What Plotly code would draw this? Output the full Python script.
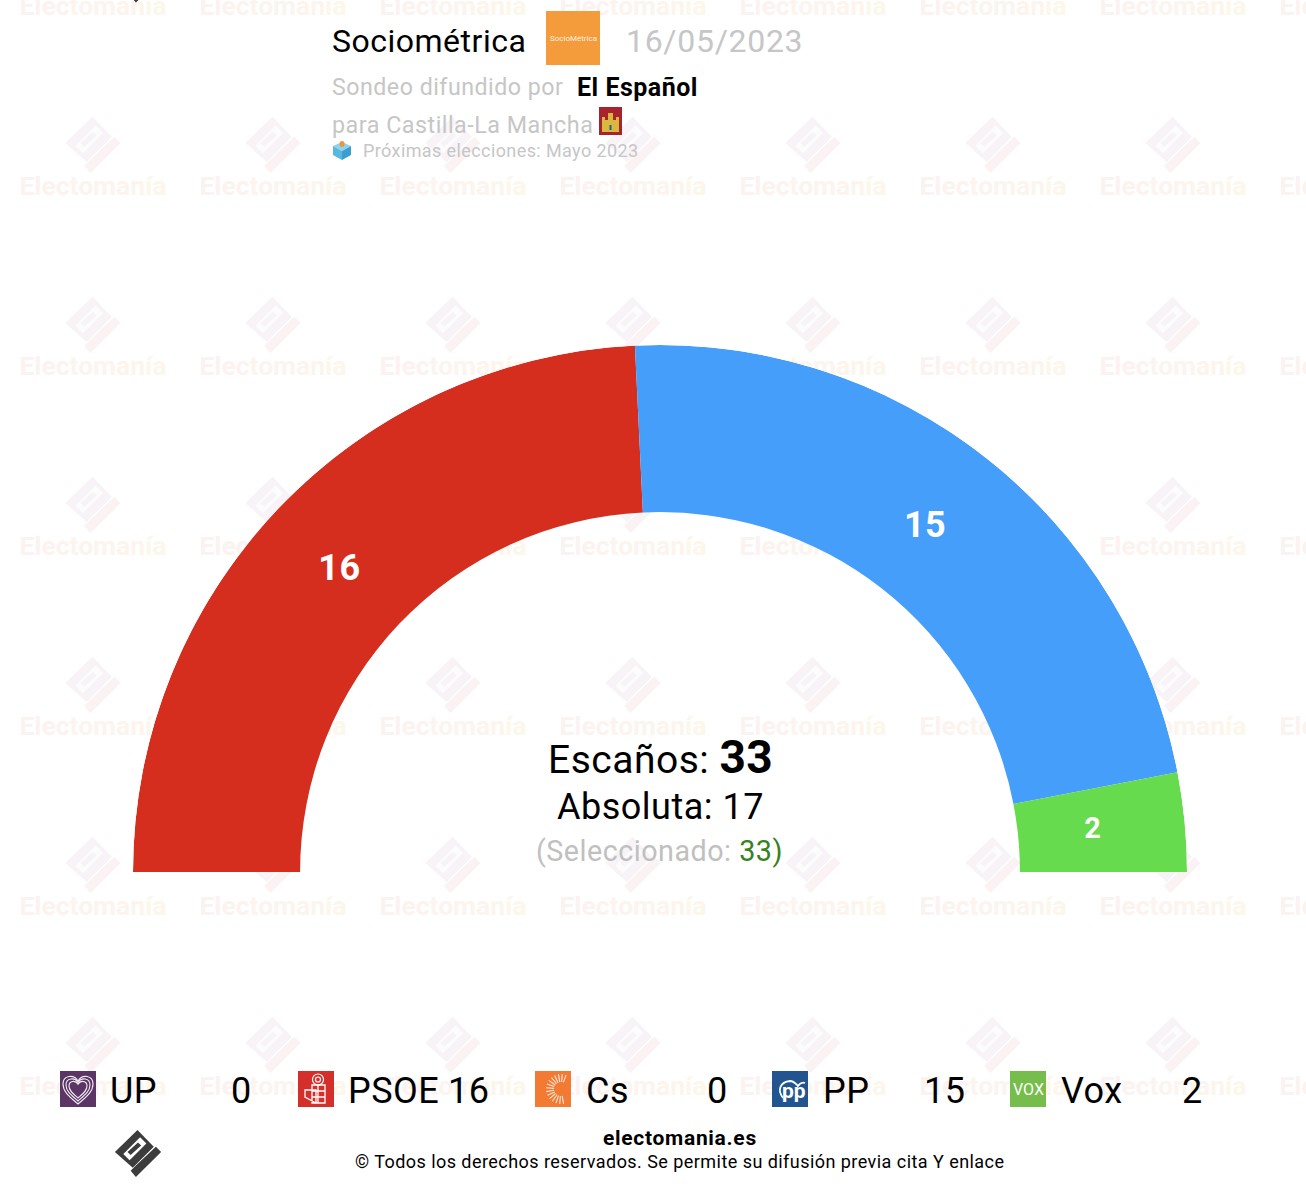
import math
import plotly.graph_objects as go

W, H = 1306, 1188
parties = ["UP", "PSOE", "Cs", "PP", "Vox"]
seats = [0, 16, 0, 15, 2]
colors = ["#5b3564", "#d52e1f", "#f07830", "#459ef9", "#66db4d"]
legend_box_colors = ["#5b3564", "#d42f2a", "#f27a32", "#22558f", "#76bd4c"]
label_r = {"PSOE": 0.835, "PP": 0.824, "Vox": 0.825}
label_dtheta = {"PSOE": 0.4, "PP": 0.56, "Vox": -0.05}
total_seats = 33
majority = 17
selected = 33
pollster = "Sociométrica"
poll_date = "16/05/2023"
media = "El Español"
region_text = "para Castilla-La Mancha"
next_election = "Próximas elecciones: Mayo 2023"
FONT = "Roboto"

# ---------- helpers for decoration
def poly(pts, cx=0, cy=0, s=1):
    return "M" + "L".join(f"{cx+x*s:.2f},{cy+y*s:.2f}" for x, y in pts) + "Z"

def px_shape(path, fill="rgba(0,0,0,0)", line=None, lw=0, layer="above"):
    return dict(type="path", path=path, xref="x", yref="y", fillcolor=fill, layer=layer,
                line=dict(color=line or "rgba(0,0,0,0)", width=lw))

LOGO_BODY = [(-0.5, -22.5), (15, -6.5), (-5, 13.5), (-22, -1.5)]
LOGO_HOLE = [(2, -15.5), (8, -9.5), (-8, 6.5), (-14, 0.5)]
LOGO_BAR = [(0, -10.5), (3, -7.5), (-7, 1.5), (-10, -1.5)]
LOGO_CHECK = [(-7, 16.5), (-2, 22.5), (22, -1.5), (17, -6.5), (-2, 11.5)]

shapes = []
wm_cols = [93 + 180 * i for i in range(0, 8)]
wm_rows = [8 + 180 * i for i in range(0, 7)]
wm_logo_rows = [145 + 180 * i for i in range(0, 6)]
s = 1.26
for pts, fill in [(LOGO_BODY, "#f7f3f7"), (LOGO_HOLE, "#fdfcfd"), (LOGO_BAR, "#f7f3f7"), (LOGO_CHECK, "#faf2f3")]:
    path = "".join(poly(pts, cx, cy, s) for cx in wm_cols for cy in wm_logo_rows)
    shapes.append(px_shape(path, fill, layer="below"))

# Bottom-left dark logo, plus the fragment cut off by the top edge
for cy in (1153.5, -21):
    cx = 138
    shapes.append(px_shape(poly(LOGO_BODY, cx, cy, 1.05) + poly(LOGO_CHECK, cx, cy, 1.05), "#3c3c3c"))
    shapes.append(px_shape(poly(LOGO_HOLE, cx, cy, 1.05), "#ffffff"))
    shapes.append(px_shape(poly(LOGO_BAR, cx, cy, 1.05), "#3c3c3c"))

# Legend icon boxes
box_x = [60, 298, 535, 772, 1010]
text_x = [110, 348, 586, 823, 1061]
val_x = [252, 489, 728, 965, 1203]
LEG_Y = 1091
for bx, c in zip(box_x, legend_box_colors):
    shapes.append(dict(type="rect", xref="x", yref="y", x0=bx, x1=bx + 36, y0=1071, y1=1107,
                       fillcolor=c, line=dict(width=0), layer="above"))

# UP heart
def heart(cx, cy, k):
    return (f"M{cx},{cy+15*k} C{cx-8*k},{cy+8*k} {cx-15*k},{cy+3*k} {cx-15*k},{cy-5*k} "
            f"C{cx-15*k},{cy-14*k} {cx-4*k},{cy-15*k} {cx},{cy-8*k} "
            f"C{cx+4*k},{cy-15*k} {cx+15*k},{cy-14*k} {cx+15*k},{cy-5*k} "
            f"C{cx+15*k},{cy+3*k} {cx+8*k},{cy+8*k} {cx},{cy+15*k}Z")
for k in (1.0, 0.8, 0.6):
    shapes.append(px_shape(heart(78, 1089, k), line="#f3eef4", lw=1.1))

# PSOE fist and rose
for r in (5.5, 2.5):
    shapes.append(dict(type="circle", xref="x", yref="y", x0=318 - r, x1=318 + r, y0=1079.5 - r, y1=1079.5 + r,
                       line=dict(color="#ffffff", width=1.2), fillcolor="rgba(0,0,0,0)", layer="above"))
shapes.append(px_shape("M312,1085 L325,1085 L325,1103 L312,1103 Z M312,1091 L325,1091 M312,1097 L325,1097 M318,1085 L318,1103 "
                       "M305,1090 L316,1090 L316,1103 L305,1097 Z", line="#ffffff", lw=1.3))

# Cs rays
for ang in range(70, 295, 15):
    a = math.radians(ang)
    cxx, cyy = 561, 1089
    shapes.append(px_shape(f"M{cxx+7*math.cos(a):.1f},{cyy-7*math.sin(a):.1f} L{cxx+15*math.cos(a):.1f},{cyy-15*math.sin(a):.1f}",
                           line="#fbe7d8", lw=1.1))

# PP swoop
shapes.append(px_shape("M783,1098 C777,1090 780,1082 790,1081 C794,1081 796,1084 798,1086 C800,1083 803,1082 805,1083",
                       line="#ffffff", lw=1.8))

# Pollster logo, flag, ballot box
shapes.append(dict(type="rect", xref="x", yref="y", x0=546, x1=600, y0=11, y1=65, fillcolor="#f49c3b",
                   line=dict(width=0), layer="above"))
shapes.append(dict(type="rect", xref="x", yref="y", x0=599, x1=622, y0=107, y1=135, fillcolor="#a8232e",
                   line=dict(width=0), layer="above"))
shapes.append(px_shape("M602,132 L602,117 L605,117 L605,120 L608,120 L608,113 L613,113 L613,120 L616,120 L616,117 L619,117 L619,132 Z",
                       "#d9b83e"))
shapes.append(px_shape("M609.5,125 L611.5,125 L611.5,130 L609.5,130 Z", "#2a5a9c"))
shapes.append(px_shape("M333,146 L342,142 L351,146 L342,151 Z", "#8ed4ee"))
shapes.append(px_shape("M333,146 L342,151 L342,160 L333,155 Z", "#58b8e2"))
shapes.append(px_shape("M351,146 L342,151 L342,160 L351,155 Z", "#3a9fd0"))
shapes.append(dict(type="circle", xref="x", yref="y", x0=339.5, x1=344.5, y0=141, y1=147, fillcolor="#f0953a",
                   line=dict(width=0), layer="above"))

# ---------- figure
fig = go.Figure()

# Watermark text sits under the arc
wm_letters = list("Electomanía")
wm_tones = ["#fbf2f2", "#fbf2f2", "#fcf3f1", "#fcf3f0", "#fcf4ef", "#fcf4ef", "#fcf4ee", "#fdf5ed", "#fdf5ec", "#fdf6eb", "#fdf6eb"]
wm_text = "<b>" + "".join(f'<span style="color:{c}">{l}</span>' for l, c in zip(wm_letters, wm_tones)) + "</b>"
wx = [x for x in wm_cols for _ in wm_rows]
wy = [y for _ in wm_cols for y in wm_rows]
fig.add_trace(go.Scatter(x=wx, y=wy, mode="text", text=[wm_text] * len(wx), textposition="middle center",
                         textfont=dict(family=FONT, size=26.5, color="#fbf2f2"), cliponaxis=True,
                         hoverinfo="skip", showlegend=False, xaxis="x", yaxis="y"))

# Seat arc: each party's sector comes from its share of the seats
thetas, widths, kept, kept_col, kept_seats = [], [], [], [], []
cum = 0
for p, v, c in zip(parties, seats, colors):
    if v > 0:
        thetas.append(180 - (cum + v / 2) / total_seats * 180)
        widths.append(v / total_seats * 180)
        kept.append(p); kept_col.append(c); kept_seats.append(v)
    cum += v
fig.add_trace(go.Barpolar(r=[0.317] * len(kept), base=[0.683] * len(kept), theta=thetas, width=widths,
                          marker=dict(color=kept_col, line=dict(width=0)), text=kept, hoverinfo="text",
                          showlegend=False, subplot="polar"))
fig.add_trace(go.Scatterpolar(r=[label_r[p] for p in kept],
                              theta=[t + label_dtheta[p] for t, p in zip(thetas, kept)], mode="text",
                              text=[f'<b><span style="letter-spacing:0.5px">{v}</span></b>' for v in kept_seats],
                              textfont=dict(family=FONT, color="white", size=[36 if v > 5 else 29 for v in kept_seats]),
                              hoverinfo="skip", showlegend=False, subplot="polar"))

def ann(x, y, text, size, color="#000000", xa="left", ls=0.5):
    if ls:
        text = f'<span style="letter-spacing:{ls}px">{text}</span>'
    dx = {"left": -2, "right": 2, "center": 0}[xa]
    return dict(x=x + dx, y=y, xref="x", yref="y", text=text, showarrow=False, xanchor=xa, yanchor="middle",
                font=dict(family=FONT, size=size, color=color), align="left")

annotations = [
    ann(332, 41, pollster, 32),
    ann(626, 41, poll_date, 32, "#c6c6c6", ls=0.7),
    ann(573, 38, "SocioMétrica", 8, "#fdf0e0", "center", ls=0),
    ann(332, 87, "Sondeo difundido por", 23.2, "#c6c6c6"),
    ann(577, 87, f"<b>{media}</b>", 25),
    ann(332, 125, region_text, 23.3, "#c6c6c6"),
    ann(363, 150, next_election, 18, "#c6c6c6", ls=0.4),
    ann(660, 757, f'Escaños: <b><span style="font-size:46px">{total_seats}</span></b>', 39, "#000000", "center"),
    ann(660, 807, f"Absoluta: {majority}", 36, "#000000", "center"),
    ann(659, 851, f'(Seleccionado: <span style="color:#35801f">{selected}</span><span style="color:#35801f">)</span>', 28.7, "#c0c0c0", "center"),
    ann(680, 1138, "<b>electomania.es</b>", 21, "#000000", "center", ls=0.7),
    ann(679, 1161, "© Todos los derechos reservados. Se permite su difusión previa cita Y enlace", 18, "#000000", "center", ls=0.45),
    ann(794, 1091, "<b>pp</b>", 21, "#ffffff", "center", ls=0),
    ann(1028, 1089, "VOX", 16, "#ffffff", "center", ls=0),
]
for tx, vx, p, v in zip(text_x, val_x, parties, seats):
    annotations.append(ann(tx, LEG_Y, p, 36))
    annotations.append(ann(vx, LEG_Y, str(v), 36, "#000000", "right"))

fig.update_layout(
    width=W, height=H, margin=dict(l=0, r=0, t=0, b=0), paper_bgcolor="white", plot_bgcolor="white",
    xaxis=dict(range=[0, W], domain=[0, 1], visible=False, fixedrange=True),
    yaxis=dict(range=[H, 0], domain=[0, 1], visible=False, fixedrange=True),
    polar=dict(domain=dict(x=[133 / W, 1187 / W], y=[1 - 872 / H, 1 - 345 / H]), sector=[0, 180],
               bgcolor="rgba(0,0,0,0)",
               radialaxis=dict(range=[0, 1], visible=False),
               angularaxis=dict(visible=False, thetaunit="degrees", direction="counterclockwise", rotation=0)),
    shapes=shapes, annotations=annotations, showlegend=False, font=dict(family=FONT),
)
fig.write_html("out.html", post_script="document.body.style.margin='0';document.body.style.overflow='hidden';",
               config=dict(displayModeBar=False))
